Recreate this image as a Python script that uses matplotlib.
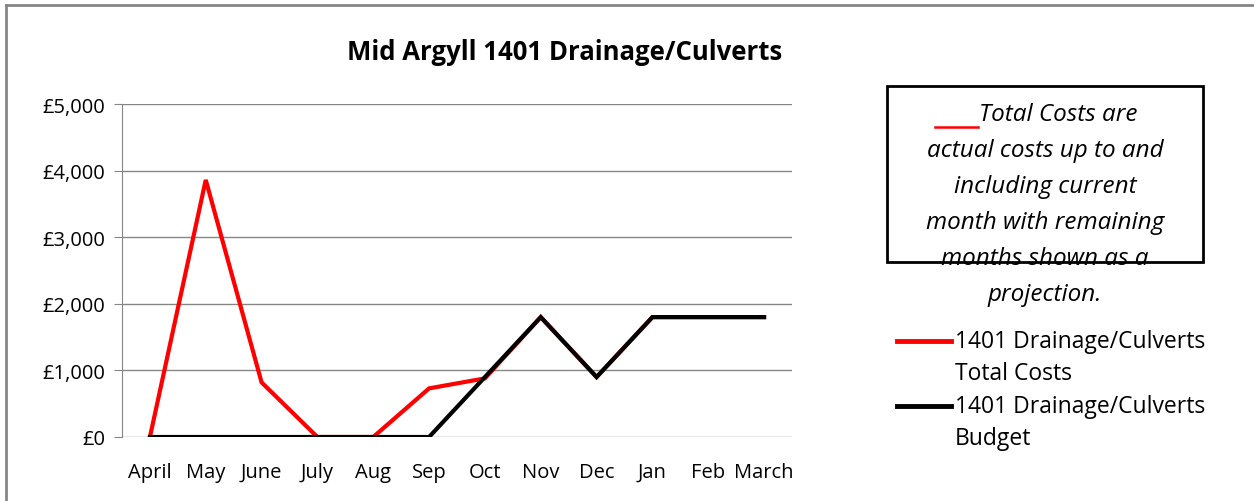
import matplotlib.pyplot as plt
from matplotlib.lines import Line2D
from matplotlib.patches import Rectangle
import numpy as np

months = ["April", "May", "June", "July", "Aug", "Sep", "Oct", "Nov", "Dec", "Jan", "Feb", "March"]
total_costs = [0, 3860, 820, 0, 0, 730, 880, 1800, 900, 1800, 1800, 1800]
budget = [0, 0, 0, 0, 0, 0, 900, 1800, 900, 1800, 1800, 1800]
y_ticks = [0, 1000, 2000, 3000, 4000, 5000]
y_labels = ["£0", "£1,000", "£2,000", "£3,000", "£4,000", "£5,000"]

plt.rcParams['font.family'] = ['Open Sans', 'DejaVu Sans']

W, H = 1254, 502
fig = plt.figure(figsize=(W / 100, H / 100), dpi=100)

# axes in pixel coordinates of the reference
left, right, top, bottom = 122, 792, 105, 438
ax = fig.add_axes([left / W, 1 - bottom / H, (right - left) / W, (bottom - top) / H])

x = np.arange(len(months))
ax.plot(x, total_costs, color="#ff0000", lw=3, solid_joinstyle="miter", zorder=3)
ax.plot(x, budget, color="black", lw=3, solid_joinstyle="miter", zorder=4)

ax.set_xlim(-0.5, len(months) - 0.5)
ax.set_ylim(0, 5000)
ax.set_yticks(y_ticks)
ax.set_yticklabels(y_labels)
ax.set_xticks(x)
ax.set_xticklabels(months)
ax.tick_params(axis="x", length=0, pad=18, labelsize=14.5)
ax.tick_params(axis="y", length=6, color="#868686", pad=6, labelsize=14.5)
ax.yaxis.grid(True, color="#868686", lw=1)
ax.set_axisbelow(True)
for s in ["top", "right", "bottom"]:
    ax.spines[s].set_visible(False)
ax.spines["left"].set_color("#868686")

fig.text(565 / W, 1 - 52 / H, "Mid Argyll 1401 Drainage/Culverts",
         ha="center", va="center", fontsize=18.5, fontweight="bold")

# note box
fig.patches.append(Rectangle((887 / W, 1 - 263 / H), (1203 - 887) / W, (263 - 87) / H,
                             transform=fig.transFigure, fill=False, ec="black", lw=2))
fig.text(979 / W, 1 - 115 / H, "Total Costs are", ha="left", va="center",
         fontsize=17.5, style="italic")
note_lines = ["actual costs up to and", "including current",
              "month with remaining", "months shown as a", "projection."]
for i, line in enumerate(note_lines):
    fig.text(1045 / W, 1 - (151 + 36 * i) / H, line, ha="center", va="center",
             fontsize=17.5, style="italic")
fig.lines.append(Line2D([935 / W, 978 / W], [1 - 128 / H, 1 - 128 / H],
                        transform=fig.transFigure, color="red", lw=1.8))

# legend
for y0, col, label in [(342, "red", "Total Costs"), (407, "black", "Budget")]:
    fig.lines.append(Line2D([897 / W, 951 / W], [1 - y0 / H, 1 - y0 / H],
                            transform=fig.transFigure, color=col, lw=3.5))
    fig.text(955 / W, 1 - y0 / H, "1401 Drainage/Culverts", ha="left", va="center", fontsize=16.5)
    fig.text(955 / W, 1 - (y0 + 32) / H, label, ha="left", va="center", fontsize=16.5)

# outer frame
fig.lines.append(Line2D([6 / W, 1], [1 - 6 / H, 1 - 6 / H], transform=fig.transFigure,
                        color="#868686", lw=2))
fig.lines.append(Line2D([6 / W, 6 / W], [0, 1 - 6 / H], transform=fig.transFigure,
                        color="#868686", lw=2))

fig.savefig("out.png", dpi=100)
